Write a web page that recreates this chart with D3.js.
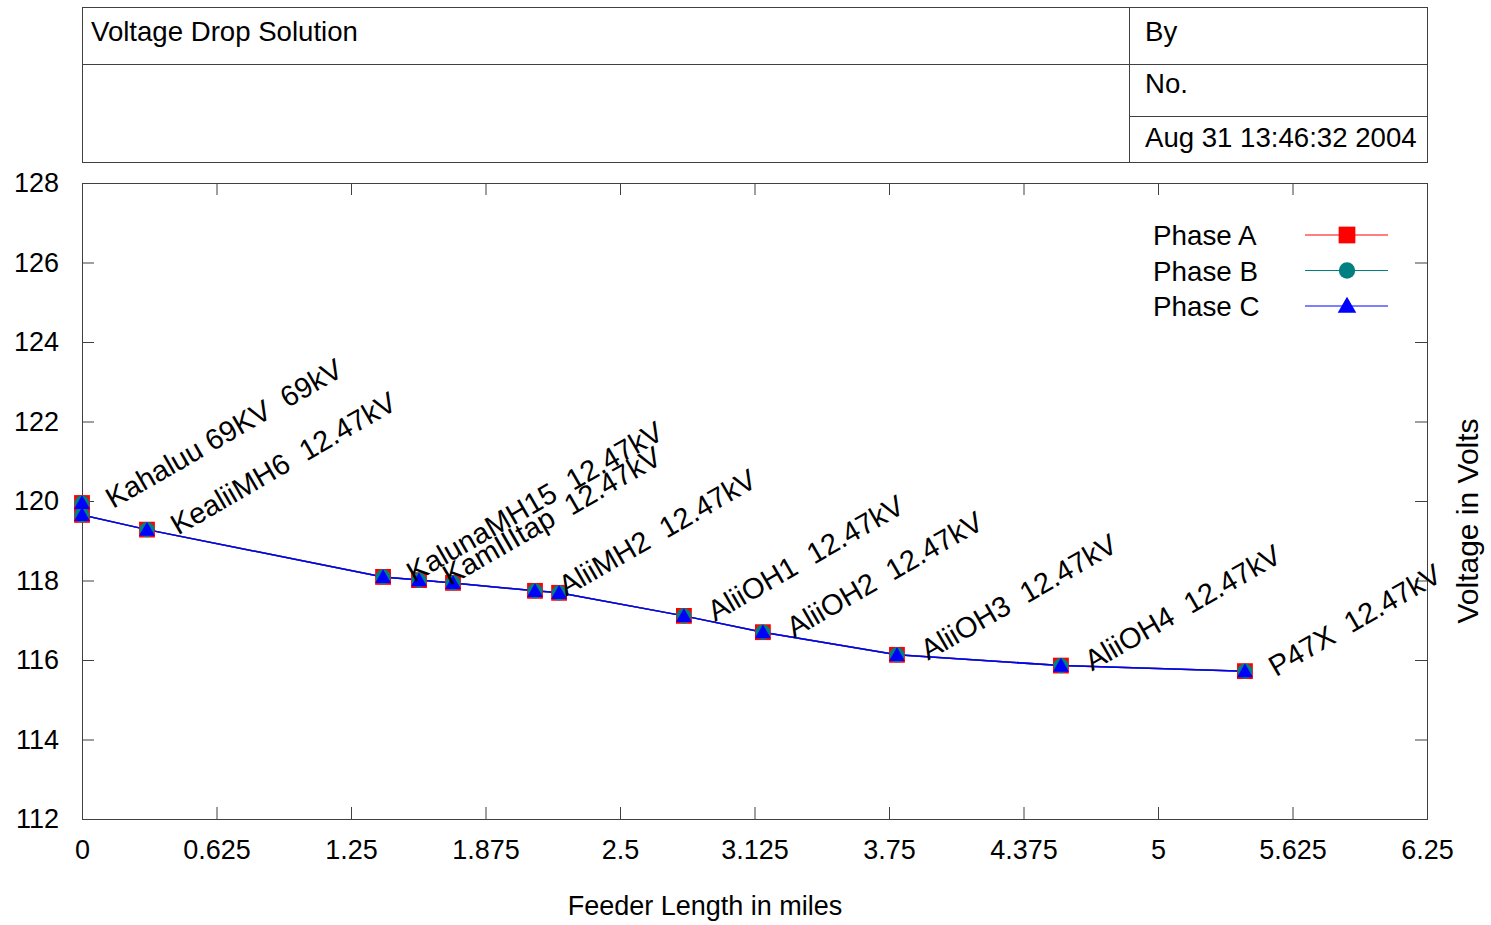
<!DOCTYPE html>
<html>
<head>
<meta charset="utf-8">
<script src="https://cdn.jsdelivr.net/npm/d3@7"></script>
<style>
  html, body {margin: 0; padding: 0; background: #fff;}
  svg {display: block;}
  text {font-family: "Liberation Sans", Arial, sans-serif; fill: #000;}
  .lbl {white-space: pre;}
</style>
</head>
<body>
<svg id="chart" width="1491" height="925"></svg>
<script>
/*** Data ***/
const miles  = [0, 0, 0.302, 1.399, 1.566, 1.724, 2.105, 2.217, 2.797, 3.164, 3.787, 4.549, 5.404]
const phaseA = [119.95, 119.65, 119.28, 118.09, 118.01, 117.94, 117.74, 117.69, 117.11, 116.70, 116.13, 115.86, 115.72]
const phaseB = [119.95, 119.65, 119.28, 118.09, 118.01, 117.94, 117.74, 117.69, 117.11, 116.70, 116.13, 115.86, 115.72]
const phaseC = [119.95, 119.65, 119.28, 118.09, 118.01, 117.94, 117.74, 117.69, 117.11, 116.70, 116.13, 115.86, 115.72]
const nodeNames = [
	"Kahaluu 69KV  69kV", "", "KealiiMH6  12.47kV", "KalunaMH15  12.47kV", "KamIIItap  12.47kV", "",
	"AliiMH2  12.47kV", "", "AliiOH1  12.47kV", "AliiOH2  12.47kV", "AliiOH3  12.47kV",
	"AliiOH4  12.47kV", "P47X  12.47kV"
]
const xTicks = [0, 0.625, 1.25, 1.875, 2.5, 3.125, 3.75, 4.375, 5, 5.625, 6.25]
const yTicks = [112, 114, 116, 118, 120, 122, 124, 126, 128]
const seriesNames = ["Phase A", "Phase B", "Phase C"]
const seriesColors = ["#ff0000", "#008080", "#0000ff"]
const headerTitle = "Voltage Drop Solution"
const headerBy = "By"
const headerNo = "No."
const headerDate = "Aug 31 13:46:32 2004"

/*** Setup ***/
var svg = d3.select("#chart")
var L = 82, R = 1427, T = 183, B = 819
var frame = "#404040"
var x = d3.scaleLinear().domain([0, 6.25]).range([L, R])
var y = d3.scaleLinear().domain([112, 128]).range([B, T])

/*** Header box ***/
var hd = svg.append("g")
hd.append("rect").attr("x", L + .5).attr("y", 7.5).attr("width", R - L).attr("height", 155)
  .attr("fill", "none").attr("stroke", frame)
hd.append("line").attr("x1", L).attr("x2", R).attr("y1", 64.5).attr("y2", 64.5).attr("stroke", frame)
hd.append("line").attr("x1", 1129.5).attr("x2", 1129.5).attr("y1", 7).attr("y2", 162).attr("stroke", frame)
hd.append("line").attr("x1", 1129).attr("x2", R).attr("y1", 116.5).attr("y2", 116.5).attr("stroke", frame)
hd.append("text").attr("x", 91).attr("y", 41).attr("font-size", 27.6).text(headerTitle)
hd.append("text").attr("x", 1145).attr("y", 41).attr("font-size", 27.6).text(headerBy)
hd.append("text").attr("x", 1145).attr("y", 93).attr("font-size", 27.6).text(headerNo)
hd.append("text").attr("x", 1145).attr("y", 147).attr("font-size", 27.6).text(headerDate)

/*** Axes ***/
function styleAxis(g) {
	g.select(".domain").remove()
	g.selectAll(".tick line").attr("stroke", frame)
	g.selectAll(".tick text").attr("font-size", 27).attr("font-family", "Liberation Sans, Arial, sans-serif").attr("fill", "#000")
}
svg.append("g").attr("transform", "translate(0," + B + ")")
   .call(d3.axisBottom(x).tickValues(xTicks).tickFormat((d) => String(d)).tickSize(-12).tickPadding(21))
   .call(styleAxis)
svg.append("g").attr("transform", "translate(0," + T + ")")
   .call(d3.axisTop(x).tickValues(xTicks).tickFormat("").tickSize(-12))
   .call(styleAxis)
svg.append("g").attr("transform", "translate(" + L + ",0)")
   .call(d3.axisLeft(y).tickValues(yTicks).tickFormat((d) => String(d)).tickSize(-12).tickPadding(23))
   .call(styleAxis)
svg.append("g").attr("transform", "translate(" + R + ",0)")
   .call(d3.axisRight(y).tickValues(yTicks).tickFormat("").tickSize(-12))
   .call(styleAxis)
svg.append("rect").attr("x", L + .5).attr("y", T + .5).attr("width", R - L).attr("height", B - T)
   .attr("fill", "none").attr("stroke", frame)

svg.append("text").attr("x", 705).attr("y", 915).attr("text-anchor", "middle").attr("font-size", 27)
   .text("Feeder Length in miles")
svg.append("text").attr("transform", "translate(1478,521) rotate(-90)").attr("text-anchor", "middle")
   .attr("font-size", 30).text("Voltage in Volts")

/*** Series ***/
var shapes = [d3.symbolSquare, d3.symbolCircle, d3.symbolTriangle]
var sizes = [250, 180, 110]
var series = [phaseA, phaseB, phaseC]
var line = d3.line().x((d) => x(d[0])).y((d) => y(d[1]))

series.forEach((vals, k) => {
	var pts = miles.map((m, i) => [m, vals[i]])
	svg.append("path").datum(pts).attr("d", line)
	   .attr("fill", "none").attr("stroke", seriesColors[k]).attr("stroke-width", 1.5)
})
series.forEach((vals, k) => {
	var pts = miles.map((m, i) => [m, vals[i]])
	svg.append("g").selectAll("path").data(pts).enter().append("path")
	   .attr("transform", (d) => "translate(" + x(d[0]) + "," + (y(d[1]) + (k == 2 ? 1.5 : 0)) + ")")
	   .attr("d", d3.symbol().type(shapes[k]).size(sizes[k]))
	   .attr("fill", seriesColors[k])
})

/*** Node labels ***/
svg.append("g").selectAll("text").data(nodeNames.map((n, i) => [miles[i], phaseA[i], n]).filter((d) => d[2] != ""))
   .enter().append("text").attr("class", "lbl")
   .attr("transform", (d) => "translate(" + (x(d[0]) + 31) + "," + (y(d[1]) + 6) + ") rotate(-30)")
   .attr("font-size", 29)
   .text((d) => d[2])

/*** Legend ***/
var lg = svg.append("g")
seriesNames.forEach((n, k) => {
	var cy = 235 + k * 35.5
	lg.append("text").attr("x", 1153).attr("y", cy + 10).attr("font-size", 27.8).text(n)
	lg.append("line").attr("x1", 1305).attr("x2", 1388).attr("y1", cy).attr("y2", cy)
	  .attr("stroke", seriesColors[k]).attr("stroke-width", 1.1)
	lg.append("path").attr("transform", "translate(1347," + (cy + (k == 2 ? 1.5 : 0)) + ")")
	  .attr("d", d3.symbol().type(shapes[k]).size(k == 2 ? 150 : sizes[k] + 30)).attr("fill", seriesColors[k])
})
</script>
</body>
</html>
